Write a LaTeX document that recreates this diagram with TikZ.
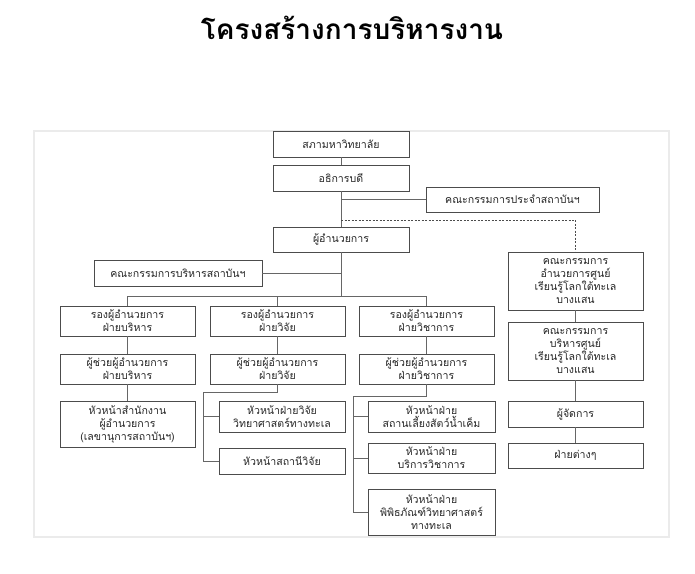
\documentclass[tikz,border=0pt]{standalone}
\usepackage{fontspec}
\setmainfont[Script=Thai]{Loma}
\begin{document}
\begin{tikzpicture}[x=1pt,y=-1pt,
  box/.style={draw=black!70,line width=0.8pt,rectangle,align=center,inner sep=0pt,
    text=black!85,font=\fontsize{10.6}{13}\selectfont},
  conn/.style={draw=black!60,line width=0.8pt},
  dconn/.style={draw=black!70,line width=0.7pt,dash pattern=on 2pt off 1.5pt}]
\useasboundingbox (0,0) rectangle (695,573);
\draw[black!8,line width=1.2pt] (34,131) rectangle (669,537);
\node[font=\fontsize{28}{32}\selectfont\bfseries] (title) at (352,28) {โครงสร้างการบริหารงาน};
% top
\node[box,minimum width=136pt,minimum height=26pt] (sapha) at (341,144) {สภามหาวิทยาลัย};
\node[box,minimum width=136pt,minimum height=26pt] (athi) at (341,178) {อธิการบดี};
\node[box,minimum width=173pt,minimum height=25pt] (pracham) at (512.5,199.5) {คณะกรรมการประจำสถาบันฯ};
\node[box,minimum width=136pt,minimum height=25pt] (dir) at (341,239.5) {ผู้อำนวยการ};
\node[box,minimum width=168pt,minimum height=26pt] (bor) at (178,273) {คณะกรรมการบริหารสถาบันฯ};
% column 1
\node[box,minimum width=135pt,minimum height=30pt] (a1) at (127.5,321) {รองผู้อำนวยการ\\ฝ่ายบริหาร};
\node[box,minimum width=135pt,minimum height=30pt] (a2) at (127.5,369) {ผู้ช่วยผู้อำนวยการ\\ฝ่ายบริหาร};
\node[box,minimum width=135pt,minimum height=46pt] (a3) at (127.5,424) {หัวหน้าสำนักงาน\\ผู้อำนวยการ\\(เลขานุการสถาบันฯ)};
% column 2
\node[box,minimum width=135pt,minimum height=30pt] (b1) at (277.5,321) {รองผู้อำนวยการ\\ฝ่ายวิจัย};
\node[box,minimum width=135pt,minimum height=30pt] (b2) at (277.5,369) {ผู้ช่วยผู้อำนวยการ\\ฝ่ายวิจัย};
\node[box,minimum width=126pt,minimum height=31pt] (b3) at (282,416.5) {หัวหน้าฝ่ายวิจัย\\วิทยาศาสตร์ทางทะเล};
\node[box,minimum width=126pt,minimum height=26pt] (b4) at (282,461) {หัวหน้าสถานีวิจัย};
% column 3
\node[box,minimum width=135pt,minimum height=30pt] (c1) at (426.5,321) {รองผู้อำนวยการ\\ฝ่ายวิชาการ};
\node[box,minimum width=135pt,minimum height=30pt] (c2) at (426.5,369) {ผู้ช่วยผู้อำนวยการ\\ฝ่ายวิชาการ};
\node[box,minimum width=127pt,minimum height=31pt] (c3) at (431.5,416.5) {หัวหน้าฝ่าย\\สถานเลี้ยงสัตว์น้ำเค็ม};
\node[box,minimum width=127pt,minimum height=30pt] (c4) at (431.5,458) {หัวหน้าฝ่าย\\บริการวิชาการ};
\node[box,minimum width=127pt,minimum height=46pt] (c5) at (431.5,512) {หัวหน้าฝ่าย\\พิพิธภัณฑ์วิทยาศาสตร์\\ทางทะเล};
% right column
\node[box,minimum width=135pt,minimum height=58pt] (d1) at (575.5,281) {คณะกรรมการ\\อำนวยการศูนย์\\เรียนรู้โลกใต้ทะเล\\บางแสน};
\node[box,minimum width=135pt,minimum height=58pt] (d2) at (575.5,351) {คณะกรรมการ\\บริหารศูนย์\\เรียนรู้โลกใต้ทะเล\\บางแสน};
\node[box,minimum width=135pt,minimum height=26pt] (d3) at (575.5,414) {ผู้จัดการ};
\node[box,minimum width=135pt,minimum height=25pt] (d4) at (575.5,455.5) {ฝ่ายต่างๆ};
% coordinates
\coordinate (jp) at (341,199.5);
\coordinate (jd) at (341,220);
\coordinate (jb) at (341,273);
\coordinate (bus) at (341,296);
\coordinate (busl) at (127.5,296);
\coordinate (busr) at (426.5,296);
\coordinate (k2) at (277.5,392);
\coordinate (k2l) at (203,392);
\coordinate (k3) at (426.5,396);
\coordinate (k3l) at (353,396);
% connectors
\draw[conn] (sapha) -- (athi);
\draw[conn] (athi) -- (dir);
\draw[conn] (jp) -- (pracham.west);
\draw[dconn] (jd) -| (d1.north);
\draw[conn] (dir) -- (bus);
\draw[conn] (jb) -- (bor.east);
\draw[conn] (busl) -- (busr);
\draw[conn] (busl) -- (a1.north);
\draw[conn] (b1.north |- bus) -- (b1.north);
\draw[conn] (busr) -- (c1.north);
\draw[conn] (a1) -- (a2);
\draw[conn] (a2) -- (a3);
\draw[conn] (b1) -- (b2);
\draw[conn] (c1) -- (c2);
\draw[conn] (b2.south) -- (k2) -- (k2l) |- (b4.west);
\draw[conn] (k2l |- b3.west) -- (b3.west);
\draw[conn] (c2.south) -- (k3) -- (k3l) |- (c5.west);
\draw[conn] (k3l |- c3.west) -- (c3.west);
\draw[conn] (k3l |- c4.west) -- (c4.west);
\draw[conn] (d1) -- (d2);
\draw[conn] (d2) -- (d3);
\draw[conn] (d3) -- (d4);
\end{tikzpicture}
\end{document}
